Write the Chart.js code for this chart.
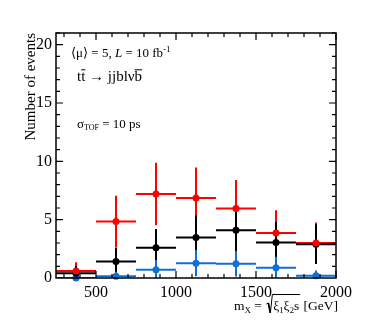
<!DOCTYPE html>
<html lang="en">
<head>
    <meta charset="UTF-8">
    <title>Number of events vs mX</title>
    <script src="https://cdn.jsdelivr.net/npm/chart.js"></script>
    <style>
        body { margin: 0; background: #fff; }
        #wrap { width: 374px; height: 327px; }
    </style>
</head>
<body>
<div id="wrap"><canvas id="c" width="374" height="327"></canvas></div>
<script>
    // bin centres and edges (GeV)
    const binCentres = [375, 625, 875, 1125, 1375, 1625, 1875];
    const binLow = [250, 500, 750, 1000, 1250, 1500, 1750];
    const binHigh = [500, 750, 1000, 1250, 1500, 1750, 2000];

    // series
    const redVals = [0.6, 4.85, 7.2, 6.85, 5.95, 3.85, 3.0];
    const redErr = [0.75, 2.2, 2.68, 2.62, 2.44, 1.96, 1.75];
    const blackVals = [0.4, 1.42, 2.6, 3.48, 4.1, 3.05, 2.9];
    const blackErr = [0.63, 1.19, 1.61, 1.87, 2.02, 1.75, 1.7];
    const blueVals = [0.0, 0.15, 0.7, 1.27, 1.22, 0.88, 0.2];
    const blueErr = [0.0, 0.39, 0.84, 1.13, 1.1, 0.94, 0.45];

    const xTicks = [500, 1000, 1500, 2000];
    const yTicks = [0, 5, 10, 15, 20];

    const RED = '#ff0000', BLACK = '#000000', BLUE = '#0f6fd2';
    const SERIF = '"Liberation Serif", "DejaVu Serif", serif';

    const series = [
        { vals: redVals, err: redErr, color: RED },
        { vals: blackVals, err: blackErr, color: BLACK },
        { vals: blueVals, err: blueErr, color: BLUE }
    ];

    function pts(vals) {
        return binCentres.map((x, i) => ({ x: x, y: vals[i] }));
    }

    // draw a row of text pieces, each {t, size, dy, italic, over}
    function runs(ctx, x, y, list, measureOnly) {
        let cx = x;
        list.forEach(r => {
            ctx.font = (r.italic ? 'italic ' : '') + r.size + 'px ' + SERIF;
            const w = ctx.measureText(r.t).width;
            if (!measureOnly) {
                ctx.fillText(r.t, cx, y + (r.dy || 0));
                if (r.over) {
                    ctx.fillRect(cx, y - r.size * 0.78, w, 1);
                }
            }
            cx += w;
        });
        return cx - x;
    }

    const errorBars = {
        id: 'errorBars',
        beforeDatasetsDraw(chart) {
            const ctx = chart.ctx, a = chart.chartArea;
            const xs = chart.scales.x, ys = chart.scales.y;
            ctx.save();
            ctx.beginPath();
            ctx.rect(a.left, a.top, a.right - a.left, a.bottom - a.top);
            ctx.clip();
            ctx.lineWidth = 2;
            series.forEach(s => {
                ctx.strokeStyle = s.color;
                s.vals.forEach((v, i) => {
                    const py = ys.getPixelForValue(v);
                    const px = xs.getPixelForValue(binCentres[i]);
                    ctx.beginPath();
                    ctx.moveTo(xs.getPixelForValue(binLow[i]), py);
                    ctx.lineTo(xs.getPixelForValue(binHigh[i]), py);
                    ctx.moveTo(px, ys.getPixelForValue(v - s.err[i]));
                    ctx.lineTo(px, ys.getPixelForValue(v + s.err[i]));
                    ctx.stroke();
                });
            });
            ctx.restore();
        }
    };

    const frame = {
        id: 'frame',
        afterDraw(chart) {
            const ctx = chart.ctx, a = chart.chartArea;
            const xs = chart.scales.x, ys = chart.scales.y;
            ctx.save();
            ctx.strokeStyle = '#000';
            ctx.lineWidth = 1.5;
            ctx.strokeRect(a.left, a.top, a.right - a.left, a.bottom - a.top);
            ctx.lineWidth = 1.2;
            ctx.beginPath();
            for (let v = 300; v <= 2000; v += 100) {
                const px = xs.getPixelForValue(v);
                const len = v % 500 === 0 ? 7 : 4;
                ctx.moveTo(px, a.bottom); ctx.lineTo(px, a.bottom - len);
                ctx.moveTo(px, a.top); ctx.lineTo(px, a.top + len);
            }
            for (let v = 1; v <= 21; v += 1) {
                const py = ys.getPixelForValue(v);
                const len = v % 5 === 0 ? 7 : 4;
                ctx.moveTo(a.left, py); ctx.lineTo(a.left + len, py);
                ctx.moveTo(a.right, py); ctx.lineTo(a.right - len, py);
            }
            ctx.stroke();

            ctx.fillStyle = '#000';
            ctx.textBaseline = 'alphabetic';
            ctx.textAlign = 'left';

            // y title, rotated, aligned to top
            ctx.save();
            ctx.translate(35, a.top);
            ctx.rotate(-Math.PI / 2);
            ctx.textAlign = 'right';
            ctx.font = '15px ' + SERIF;
            ctx.fillText('Number of events', 0, 0);
            ctx.restore();

            // annotations
            runs(ctx, 71, 57, [
                { t: '\u27E8\u03BC\u27E9 = 5, ', size: 13 },
                { t: 'L', size: 13, italic: true },
                { t: ' = 10 fb', size: 13 },
                { t: '-1', size: 9, dy: -5 }
            ]);
            runs(ctx, 77, 81, [
                { t: 't', size: 15 },
                { t: 't', size: 15, over: true },
                { t: ' \u2192 jjbl\u03BD', size: 15 },
                { t: 'b', size: 15, over: true }
            ]);
            runs(ctx, 77, 128, [
                { t: '\u03C3', size: 13 },
                { t: 'TOF', size: 8, dy: 2 },
                { t: ' = 10 ps', size: 13 }
            ]);

            // x title, right aligned at the frame edge
            const pre = [
                { t: 'm', size: 13.5 },
                { t: 'X', size: 9, dy: 3 },
                { t: ' = ', size: 13.5 }
            ];
            const rad = [
                { t: '\u03BE', size: 13.5 },
                { t: '1', size: 8.5, dy: 3 },
                { t: '\u03BE', size: 13.5 },
                { t: '2', size: 8.5, dy: 3 },
                { t: 's', size: 13.5 }
            ];
            const post = [{ t: ' [GeV]', size: 13.5 }];
            const base = 310, sq = 8;
            const wPre = runs(ctx, 0, 0, pre, true);
            const wRad = runs(ctx, 0, 0, rad, true);
            const wPost = runs(ctx, 0, 0, post, true);
            const x0 = a.right + 2 - (wPre + sq + wRad + 1 + wPost);
            runs(ctx, x0, base, pre);
            // root sign
            const rx = x0 + wPre;
            ctx.lineWidth = 1;
            ctx.beginPath();
            ctx.moveTo(rx + 1, base - 6);
            ctx.lineTo(rx + 3, base - 7);
            ctx.lineTo(rx + 5, base + 3);
            ctx.lineTo(rx + sq - 1, base - 15.5);
            ctx.lineTo(rx + sq + wRad + 1, base - 15.5);
            ctx.stroke();
            ctx.lineWidth = 1.6;
            ctx.beginPath();
            ctx.moveTo(rx + 3, base - 7);
            ctx.lineTo(rx + 5, base + 3);
            ctx.stroke();
            runs(ctx, rx + sq, base, rad);
            runs(ctx, rx + sq + wRad + 1, base, post);
            ctx.restore();
        }
    };

    const ctx = document.getElementById('c').getContext('2d');
    new Chart(ctx, {
        type: 'scatter',
        data: {
            datasets: series.map(s => ({
                data: pts(s.vals),
                backgroundColor: s.color,
                borderColor: s.color,
                pointRadius: 3.5,
                pointHoverRadius: 3.5,
                borderWidth: 0,
                clip: false
            }))
        },
        options: {
            responsive: false,
            animation: false,
            events: [],
            layout: { padding: { top: 33, right: 38, left: 0, bottom: 0 } },
            plugins: { legend: { display: false }, tooltip: { enabled: false } },
            scales: {
                x: {
                    type: 'linear',
                    min: 250,
                    max: 2000,
                    grid: { display: false, drawTicks: false },
                    border: { display: false },
                    afterBuildTicks: s => { s.ticks = xTicks.map(v => ({ value: v })); },
                    afterFit: s => { s.height = 49; },
                    ticks: {
                        color: '#000',
                        padding: 5,
                        maxRotation: 0,
                        callback: v => String(v),
                        font: { family: SERIF, size: 16 }
                    }
                },
                y: {
                    min: 0,
                    max: 21,
                    grid: { display: false, drawTicks: false },
                    border: { display: false },
                    afterBuildTicks: s => { s.ticks = yTicks.map(v => ({ value: v })); },
                    afterFit: s => { s.width = 56; },
                    ticks: {
                        color: '#000',
                        padding: 4,
                        callback: v => String(v),
                        font: { family: SERIF, size: 16 }
                    }
                }
            }
        },
        plugins: [errorBars, frame]
    });
</script>
</body>
</html>
